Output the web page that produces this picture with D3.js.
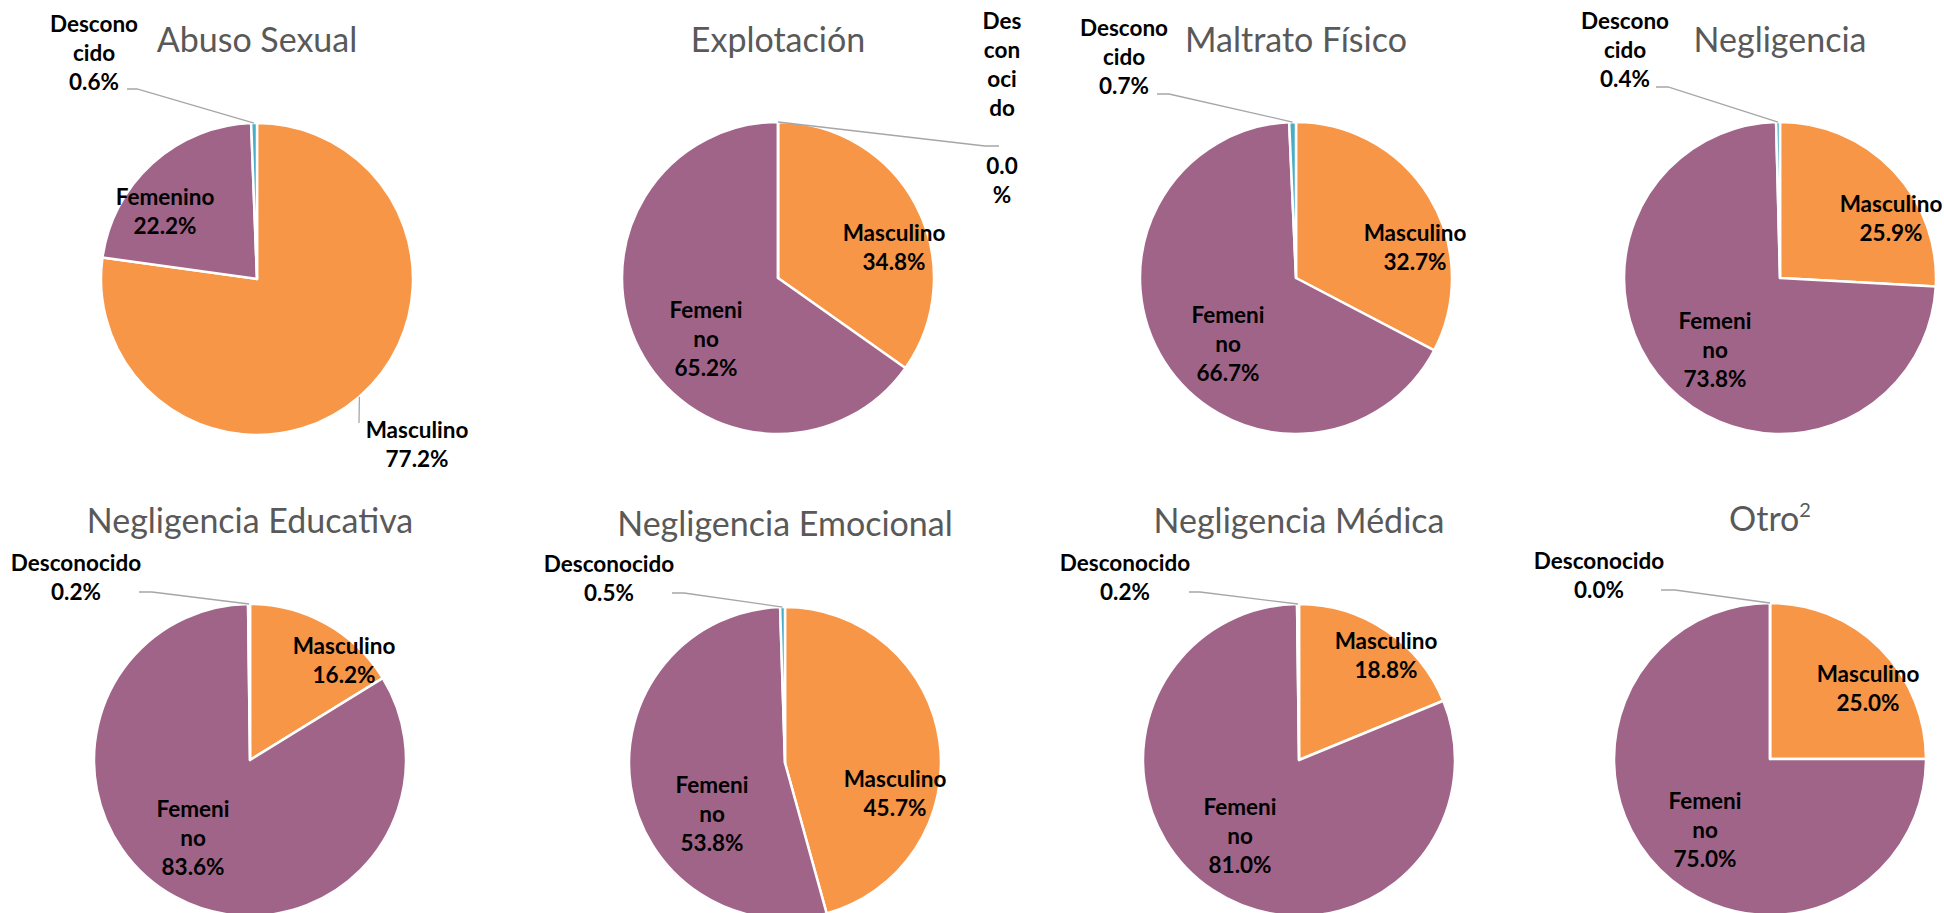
<!DOCTYPE html>
<html>
<head>
<meta charset="utf-8">
<script src="https://cdn.jsdelivr.net/npm/d3@7"></script>
<style>
  body { margin: 0; background: #fff; }
  svg { display: block; }
</style>
</head>
<body>
<svg id="chart"></svg>
<script>
//================ DATA ===================
const categories = ["Abuso Sexual", "Explotación", "Maltrato Físico", "Negligencia",
  "Negligencia Educativa", "Negligencia Emocional", "Negligencia Médica", "Otro"];
const titleNotes = ["", "", "", "", "", "", "", "2"];
const sexes = ["Masculino", "Femenino", "Desconocido"];
const masculino   = [77.2, 34.8, 32.7, 25.9, 16.2, 45.7, 18.8, 25.0];
const femenino    = [22.2, 65.2, 66.7, 73.8, 83.6, 53.8, 81.0, 75.0];
const desconocido = [0.6, 0.0, 0.7, 0.4, 0.2, 0.5, 0.2, 0.0];

//================ LAYOUT ===================
const width = 1944, height = 913, radius = 156, lineH = 29;
const colors = d3.scaleOrdinal().domain(sexes).range(["#F79646", "#A16489", "#4BACC6"]);
const centers = [[257, 279], [778, 278], [1296, 278], [1780, 278],
                 [250, 760], [785, 763], [1299, 760], [1770, 759]];
const titleY = [52, 52, 52, 52, 533, 536, 533, 531];

// label spots relative to pie centre (first line centre), wrap = chars per line
const labelLayout = [
  { Masculino: { at: [160, 151], lead: [[102, 144]] },
    Femenino: { at: [-92, -82] },
    Desconocido: { at: [-163, -255], wrap: 7, lead: [[-130, -190], [-120, -190]] } },
  { Masculino: { at: [116, -45] },
    Femenino: { at: [-72, 32], wrap: 6 },
    Desconocido: { at: [224, -257], wrap: 3, vwrap: 3, gap: true, lead: [[221, -132], [207, -132]] } },
  { Masculino: { at: [119, -45] },
    Femenino: { at: [-68, 37], wrap: 6 },
    Desconocido: { at: [-172, -250], wrap: 7, lead: [[-139, -184], [-127, -184]] } },
  { Masculino: { at: [111, -74] },
    Femenino: { at: [-65, 43], wrap: 6 },
    Desconocido: { at: [-155, -257], wrap: 7, lead: [[-124, -191], [-112, -191]] } },
  { Masculino: { at: [94, -114] },
    Femenino: { at: [-57, 49], wrap: 6 },
    Desconocido: { at: [-174, -197], lead: [[-111, -168], [-98, -168]] } },
  { Masculino: { at: [110, 16] },
    Femenino: { at: [-73, 22], wrap: 6 },
    Desconocido: { at: [-176, -199], lead: [[-113, -170], [-101, -170]] } },
  { Masculino: { at: [87, -119] },
    Femenino: { at: [-59, 47], wrap: 6 },
    Desconocido: { at: [-174, -197], lead: [[-110, -168], [-99, -168]] } },
  { Masculino: { at: [98, -85] },
    Femenino: { at: [-65, 42], wrap: 6 },
    Desconocido: { at: [-171, -198], lead: [[-109, -169], [-95, -169]] } }
];

const fmt = d3.format(".1f");

function chunk(str, n) {
  if (!n) return [str];
  let out = [];
  for (let i = 0; i < str.length; i += n) out.push(str.slice(i, i + n));
  return out;
}

//================ DRAW ===================
const svg = d3.select("#chart").attr("width", width).attr("height", height);

const pie = d3.pie().sort(null).value(d => d.value);
const arc = d3.arc().innerRadius(0).outerRadius(radius);

categories.forEach((cat, i) => {
  let rows = [
    { sex: "Masculino", value: masculino[i] },
    { sex: "Femenino", value: femenino[i] },
    { sex: "Desconocido", value: desconocido[i] }
  ];
  let [cx, cy] = centers[i];
  let g = svg.append("g").attr("transform", "translate(" + [cx, cy] + ")");
  let arcs = pie(rows);

  g.selectAll("path.slice")
    .data(arcs)
    .enter()
    .append("path")
    .attr("class", "slice")
    .attr("d", arc)
    .style("fill", d => colors(d.data.sex))
    .style("stroke", "#fff")
    .style("stroke-width", 2.5)
    .style("stroke-linejoin", "round");

  // title
  let title = svg.append("text")
    .attr("x", cx)
    .attr("y", titleY[i])
    .attr("text-anchor", "middle")
    .style("font-family", "Lato, 'Open Sans', sans-serif")
    .style("font-size", "34px")
    .style("fill", "#595959")
    .text(cat);
  if (titleNotes[i]) {
    title.append("tspan")
      .attr("dy", -14)
      .style("font-size", "20px")
      .text(titleNotes[i]);
  }

  // leader lines + labels
  arcs.forEach(a => {
    let lay = labelLayout[i][a.data.sex];
    if (lay.lead) {
      let mid = (a.startAngle + a.endAngle) / 2;
      let end = [radius * Math.sin(mid), -radius * Math.cos(mid)];
      g.append("path")
        .attr("d", d3.line()(lay.lead.concat([end])))
        .style("fill", "none")
        .style("stroke", "#A6A6A6")
        .style("stroke-width", 1.3);
    }
    let lines = chunk(a.data.sex, lay.wrap);
    if (lay.gap) lines.push("");
    lines = lines.concat(chunk(fmt(a.data.value) + "%", lay.vwrap));
    let t = g.append("text")
      .attr("text-anchor", "middle")
      .style("font-family", "Lato, 'Open Sans', sans-serif")
      .style("font-weight", "bold")
      .style("font-size", "22.5px")
      .style("fill", "#000");
    lines.forEach((ln, k) => {
      t.append("tspan")
        .attr("x", lay.at[0])
        .attr("y", lay.at[1] + k * lineH)
        .attr("dy", "0.35em")
        .text(ln);
    });
  });
});
</script>
</body>
</html>
